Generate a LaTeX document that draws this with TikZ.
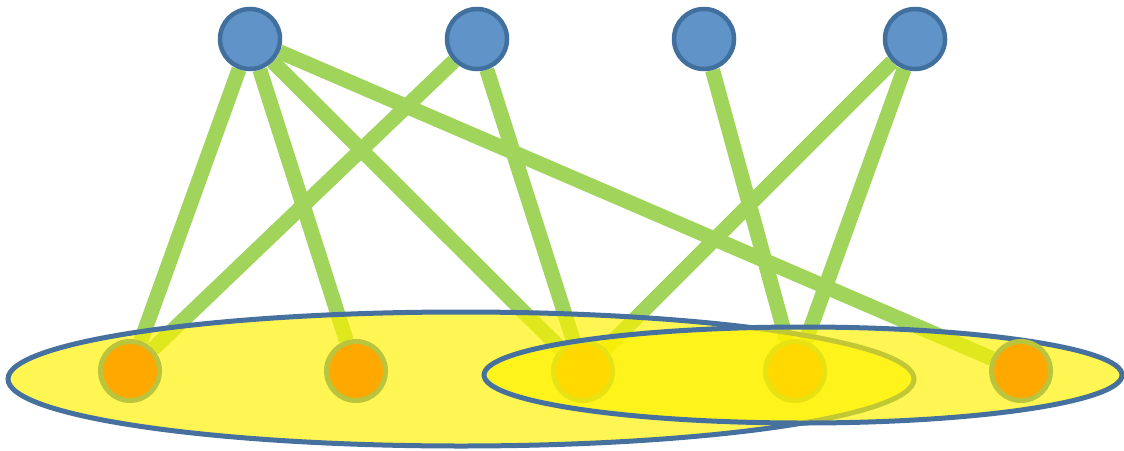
\documentclass[tikz,border=0pt]{standalone}
\usepackage{xcolor}
\usepackage{tikz}
\usetikzlibrary{positioning}

\definecolor{topfill}{RGB}{96,148,200}
\definecolor{topline}{RGB}{66,112,158}
\definecolor{linkgreen}{RGB}{160,212,90}
\definecolor{botfill}{RGB}{255,168,0}
\definecolor{botline}{RGB}{186,196,60}
\definecolor{setline}{RGB}{70,112,158}

\pgfdeclarelayer{edgelayer}
\pgfdeclarelayer{setlayer}
\pgfdeclarelayer{front}
\pgfsetlayers{edgelayer,setlayer,main,front}

\begin{document}
\begin{tikzpicture}[
    top/.style={circle, draw=topline, fill=topfill, line width=0.045cm, minimum size=0.60cm, inner sep=0pt},
    bot/.style={circle, draw=botline, fill=botfill, line width=0.05cm, minimum size=0.59cm, inner sep=0pt},
    link/.style={draw=linkgreen, line width=0.15cm},
    set/.style={draw=setline, line width=0.05cm, fill=yellow, fill opacity=0.67}
  ]
  \useasboundingbox (0,0) rectangle (11.24,4.5);

  % Upper row
  \node[top] (t1) at (2.50, 4.11) {};
  \node[top] (t2) at (4.77, 4.11) {};
  \node[top] (t3) at (7.04, 4.11) {};
  \node[top] (t4) at (9.15, 4.11) {};

  % Lower row
  \node[bot] (b1) at (1.30, 0.79) {};
  \node[bot] (b2) at (3.56, 0.79) {};
  \node[bot] (b3) at (5.83, 0.79) {};
  \node[bot] (b4) at (7.95, 0.79) {};

  % Right set, drawn over the others
  \begin{pgfonlayer}{front}
    \draw[set] (8.03, 0.75) ellipse (3.19cm and 0.48cm);
    \node[bot] (b5) at (10.21, 0.79) {};
  \end{pgfonlayer}

  % Left set
  \begin{pgfonlayer}{setlayer}
    \draw[set] (4.61, 0.71) ellipse (4.53cm and 0.67cm);
  \end{pgfonlayer}

  % Links
  \begin{pgfonlayer}{edgelayer}
    \draw[link] (t1) -- (b1);
    \draw[link] (t1) -- (b2);
    \draw[link] (t1) -- (b3);
    \draw[link] (t1) -- (b5);
    \draw[link] (t2) -- (b1);
    \draw[link] (t2) -- (b3);
    \draw[link] (t3) -- (b4);
    \draw[link] (t4) -- (b3);
    \draw[link] (t4) -- (b4);
  \end{pgfonlayer}
\end{tikzpicture}
\end{document}
